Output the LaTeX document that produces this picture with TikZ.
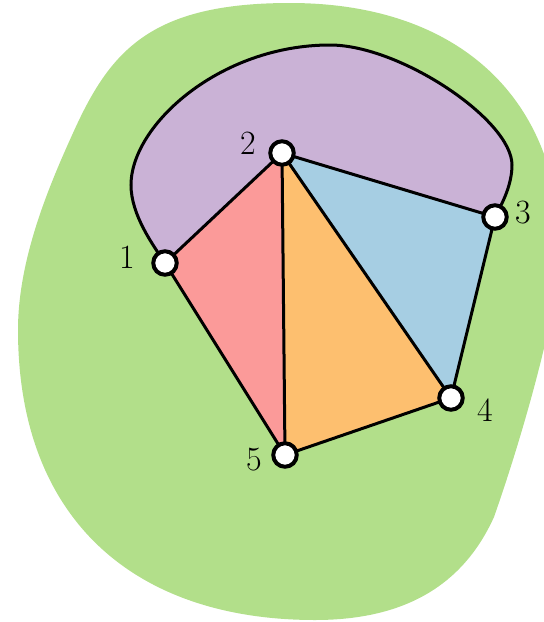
\documentclass[tikz,border=0pt]{standalone}
\definecolor{cgreen}{RGB}{178,223,138}
\definecolor{cpurple}{RGB}{202,178,214}
\definecolor{cred}{RGB}{251,154,153}
\definecolor{corange}{RGB}{253,191,111}
\definecolor{cblue}{RGB}{166,206,227}
\tikzset{
  vtx/.style={circle,draw=black,fill=white,line width=4pt,minimum size=23.5pt,inner sep=0pt},
  edge/.style={draw=black,line width=3pt},
  lbl/.style={font=\fontsize{34}{40}\selectfont,inner sep=0pt}
}
\begin{document}
\begin{tikzpicture}[x=1pt,y=-1pt]
\useasboundingbox (0,0) rectangle (544,622);
\begin{scope}
\clip (0,0) rectangle (544,622);
\fill[cgreen] (290,3)
  .. controls (460,3) and (560,100) .. (560,250)
  .. controls (560,300) and (527,423) .. (494,517)
  .. controls (465,581) and (410,620) .. (315,620)
  .. controls (135,620) and (18,520) .. (18,330)
  .. controls (18,260) and (48,188) .. (73,133)
  .. controls (110,51) and (150,3) .. (290,3) -- cycle;
\end{scope}
\coordinate (p1) at (165,263);
\coordinate (p2) at (282,153);
\coordinate (p3) at (495,217);
\coordinate (p4) at (451,398);
\coordinate (p5) at (285,455);
\fill[cred] (p1) -- (p2) -- (p5) -- cycle;
\fill[corange] (p2) -- (p4) -- (p5) -- cycle;
\fill[cblue] (p2) -- (p3) -- (p4) -- cycle;
\fill[cpurple] (p1)
  .. controls (153,245) and (131,215) .. (131,185)
  .. controls (131,125) and (220,45) .. (330,45)
  .. controls (400,45) and (512,120) .. (512,165)
  .. controls (512,185) and (502,204) .. (p3) -- (p2) -- cycle;
\draw[edge] (p1)
  .. controls (153,245) and (131,215) .. (131,185)
  .. controls (131,125) and (220,45) .. (330,45)
  .. controls (400,45) and (512,120) .. (512,165)
  .. controls (512,185) and (502,204) .. (p3);
\draw[edge] (p1) -- (p2);
\draw[edge] (p2) -- (p3);
\draw[edge] (p3) -- (p4);
\draw[edge] (p4) -- (p5);
\draw[edge] (p5) -- (p1);
\draw[edge] (p2) -- (p5);
\draw[edge] (p2) -- (p4);
\node[vtx] (n1) at (p1) {};
\node[vtx] (n2) at (p2) {};
\node[vtx] (n3) at (p3) {};
\node[vtx] (n4) at (p4) {};
\node[vtx] (n5) at (p5) {};
\node[lbl] (l1) at (127,257) {1};
\node[lbl] (l2) at (248,143) {2};
\node[lbl] (l3) at (523,213) {3};
\node[lbl] (l4) at (485,410) {4};
\node[lbl] (l5) at (254,460) {5};
\end{tikzpicture}
\end{document}
